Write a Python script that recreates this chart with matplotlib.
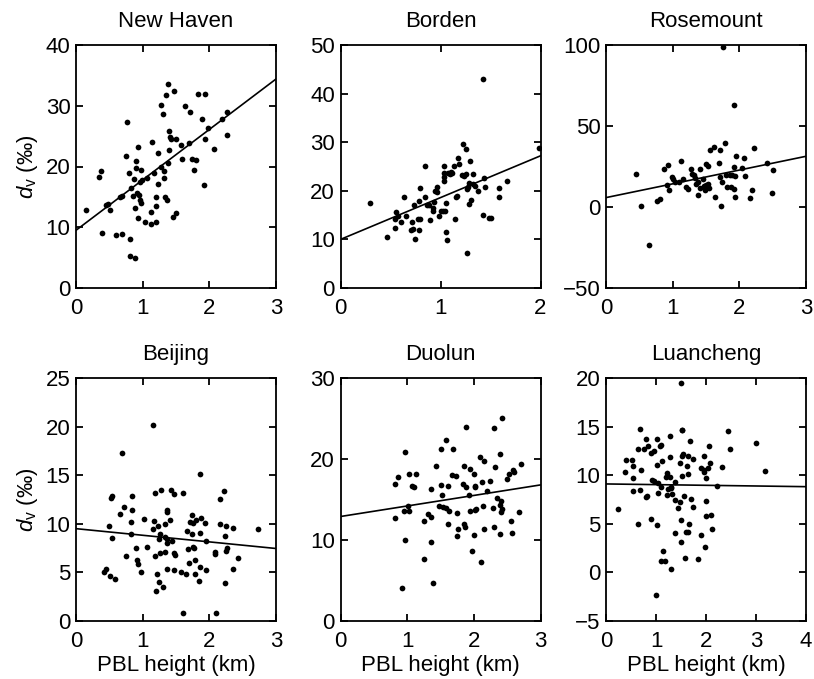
import numpy as np
import matplotlib
matplotlib.use("Agg")
import matplotlib.pyplot as plt

plt.rcParams['font.family'] = ['Liberation Sans', 'DejaVu Sans']
plt.rcParams['mathtext.fontset'] = 'custom'
plt.rcParams['mathtext.rm'] = 'Liberation Sans'
plt.rcParams['mathtext.it'] = 'Liberation Sans:italic'

# New Haven
nh_x = [0.145, 0.35, 0.375, 0.395, 0.445, 0.475, 0.505, 0.595, 0.655, 0.69, 0.685, 0.77, 0.745,
        0.79, 0.81, 0.815, 0.88, 0.82, 0.875, 0.86, 0.895, 0.9, 0.935, 0.97, 0.965, 0.91, 0.94,
        0.96, 0.975, 0.89, 0.93, 1.03, 0.995, 1.06, 1.135, 1.12, 1.13, 1.175, 1.2, 1.2, 1.195,
        1.235, 1.235, 1.275, 1.3, 1.28, 1.325, 1.315, 1.335, 1.37, 1.35, 1.38, 1.4, 1.41, 1.42,
        1.4, 1.375, 1.475, 1.495, 1.455, 1.5, 1.58, 1.595, 1.635, 1.695, 1.71, 1.74, 1.805, 1.77,
        1.835, 1.94, 1.895, 1.985, 1.935, 1.925, 2.075, 2.185, 2.265, 2.26]
nh_y = [12.9, 18.2, 19.3, 9.0, 13.7, 13.9, 12.9, 8.8, 14.9, 15.2, 8.9, 27.4, 21.8,
        19.0, 8.1, 5.3, 4.9, 16.4, 17.9, 15.2, 20.9, 19.8, 23.2, 19.5, 17.5, 15.7, 15.3,
        14.5, 14.0, 13.2, 11.6, 10.9, 17.7, 18.1, 24.0, 12.5, 10.5, 19.0, 14.9, 13.5, 10.8,
        22.2, 17.2, 30.1, 28.6, 19.9, 19.2, 18.1, 14.9, 14.5, 31.8, 33.5, 25.8, 24.9, 24.5,
        22.7, 20.5, 32.5, 24.5, 11.7, 12.3, 23.6, 21.2, 30.0, 23.8, 28.9, 21.3, 21.1, 19.5,
        31.9, 31.9, 27.8, 26.3, 24.5, 16.9, 22.9, 27.8, 29.0, 25.2]

# Borden
bo_x = [0.29, 0.46, 0.54, 0.55, 0.54, 0.575, 0.605, 0.635, 0.65, 0.71, 0.70, 0.72, 0.745, 0.73,
        0.77, 0.79, 0.78, 0.785, 0.795, 0.84, 0.845, 0.86, 0.885, 0.89, 0.92, 0.925, 0.935, 0.945,
        0.965, 0.965, 0.985, 1.0, 1.025, 1.045, 1.05, 1.035, 1.03, 1.03, 1.03, 1.055, 1.06, 1.075,
        1.09, 1.1, 1.115, 1.145, 1.15, 1.16, 1.135, 1.175, 1.18, 1.22, 1.25, 1.215, 1.23, 1.255,
        1.29, 1.32, 1.26, 1.27, 1.26, 1.28, 1.28, 1.3, 1.32, 1.34, 1.37, 1.425, 1.435, 1.44,
        1.425, 1.48, 1.5, 1.58, 1.585, 1.665, 1.98]
bo_y = [17.4, 10.4, 12.4, 15.7, 14.1, 14.8, 13.5, 18.7, 14.8, 13.6, 12.0, 12.2, 10.0, 17.0,
        14.1, 14.1, 12.0, 17.8, 20.6, 18.7, 25.1, 17.0, 17.0, 13.9, 16.5, 15.9, 17.6, 20.0,
        20.8, 19.7, 14.8, 15.9, 15.9, 15.9, 17.4, 25.2, 23.6, 22.8, 22.0, 11.5, 9.8, 23.7,
        23.4, 23.8, 23.6, 14.2, 18.8, 19.0, 25.2, 26.8, 25.5, 29.7, 28.6, 23.3, 23.1, 23.4,
        26.2, 23.4, 7.1, 20.8, 20.3, 21.7, 17.3, 18.2, 21.4, 21.0, 20.0, 43.1, 22.6, 20.7,
        15.1, 14.4, 14.5, 20.5, 18.8, 22.0, 28.8]

# Rosemount
ro_x = [0.455, 0.53, 0.65, 0.77, 0.81, 0.875, 0.93, 0.915, 0.95, 0.985, 1.0, 1.03, 1.095, 1.13,
        1.16, 1.2, 1.235, 1.28, 1.285, 1.315, 1.345, 1.335, 1.385, 1.375, 1.415, 1.415, 1.45,
        1.465, 1.48, 1.5, 1.5, 1.525, 1.525, 1.55, 1.56, 1.625, 1.64, 1.7, 1.71, 1.715, 1.73,
        1.735, 1.76, 1.785, 1.795, 1.815, 1.855, 1.88, 1.895, 1.915, 1.915, 1.92, 1.93, 1.945,
        1.94, 2.04, 2.075, 2.085, 2.155, 2.195, 2.22, 2.42, 2.49, 2.51]
ro_y = [20.2, 0.4, -23.5, 3.7, 4.9, 23.7, 26.0, 13.8, 10.3, 18.5, 17.5, 15.7, 15.5, 28.2,
        17.5, 12.2, 11.3, 23.7, 20.2, 19.6, 14.0, 17.7, 7.6, 15.5, 11.7, 23.7, 17.5,
        13.0, 10.3, 13.6, 26.8, 25.1, 14.4, 11.9, 35.0, 37.3, 6.2, 27.4, 18.5, 35.0, 0.8,
        15.5, 99.0, 39.3, 19.8, 12.4, 19.6, 12.6, 19.8, 62.8, 24.7, 10.9, 6.2, 31.3,
        19.2, 24.3, 30.3, 19.0, 5.4, 10.3, 36.3, 27.0, 8.7, 22.7]

# Beijing
bj_x = [0.415, 0.445, 0.515, 0.58, 0.5, 0.535, 0.52, 0.54, 0.685, 0.66, 0.72, 0.75, 0.82, 0.825,
        0.835, 0.835, 0.9, 0.915, 0.925, 0.98, 1.02, 1.06, 1.155, 1.155, 1.17, 1.18, 1.19, 1.22,
        1.23, 1.24, 1.255, 1.255, 1.27, 1.195, 1.245, 1.305, 1.33, 1.335, 1.335, 1.36, 1.37,
        1.37, 1.37, 1.36, 1.41, 1.44, 1.43, 1.47, 1.485, 1.475, 1.475, 1.57, 1.6, 1.61, 1.655,
        1.67, 1.68, 1.705, 1.7, 1.74, 1.74, 1.755, 1.76, 1.77, 1.78, 1.79, 1.8, 1.855, 1.85,
        1.865, 1.86, 1.88, 1.94, 1.945, 1.955, 2.08, 2.09, 2.095, 2.155, 2.16, 2.225, 2.23,
        2.25, 2.24, 2.245, 2.27, 2.35, 2.355, 2.43, 2.725]
bj_y = [5.0, 5.3, 4.6, 4.3, 9.8, 8.5, 12.7, 12.9, 17.3, 11.0, 11.7, 6.7, 8.9, 10.2,
        11.4, 12.9, 7.5, 6.3, 5.9, 5.0, 10.5, 7.6, 20.2, 9.5, 10.3, 6.7, 13.2, 4.8,
        9.8, 8.4, 9.0, 7.0, 13.5, 3.1, 4.0, 3.5, 8.6, 7.1, 10.0, 11.2, 11.4,
        5.3, 8.0, 8.4, 10.4, 8.2, 13.5, 7.0, 6.8, 13.1, 5.2, 5.0, 13.2, 0.8, 4.8,
        9.3, 7.4, 10.2, 6.0, 10.9, 8.9, 10.1, 7.6, 7.5, 4.8, 6.3, 10.4, 9.1, 4.1,
        15.1, 5.6, 10.6, 10.1, 8.2, 5.2, 7.1, 6.9, 0.8, 12.6, 10.0, 13.4, 8.7,
        9.8, 3.9, 7.2, 7.5, 9.6, 5.3, 6.5, 9.5]

# Duolun
dl_x = [0.81, 0.81, 0.865, 0.925, 0.96, 0.965, 0.955, 1.01, 1.02, 1.025, 1.07, 1.1, 1.125, 1.245,
        1.255, 1.315, 1.35, 1.35, 1.35, 1.38, 1.425, 1.48, 1.5, 1.5, 1.525, 1.54, 1.585, 1.61,
        1.585, 1.62, 1.615, 1.69, 1.675, 1.725, 1.745, 1.765, 1.75, 1.845, 1.84, 1.855, 1.88,
        1.885, 1.865, 1.925, 1.935, 1.945, 1.97, 2.005, 2.01, 2.015, 2.02, 2.0, 2.035, 2.09,
        2.11, 2.125, 2.145, 2.14, 2.145, 2.19, 2.24, 2.29, 2.3, 2.315, 2.305, 2.345, 2.385,
        2.395, 2.39, 2.405, 2.4, 2.42, 2.415, 2.5, 2.53, 2.56, 2.57, 2.585, 2.595, 2.68, 2.71]
dl_y = [16.9, 12.7, 17.8, 4.1, 10.0, 20.9, 13.6, 14.2, 18.1, 13.6, 16.7, 16.5, 18.2, 12.4,
        7.6, 13.2, 12.9, 9.8, 16.3, 4.7, 19.1, 14.2, 16.8, 21.2, 15.5, 14.1, 22.4, 16.7,
        14.0, 13.6, 12.0, 21.2, 18.0, 17.9, 13.3, 11.3, 10.5, 19.1, 16.9, 12.0, 24.0,
        16.5, 11.6, 15.5, 13.6, 18.8, 8.6, 18.2, 13.7, 16.5, 16.7, 10.6, 13.8, 20.3,
        7.3, 17.2, 19.8, 14.2, 11.4, 16.0, 17.3, 14.0, 23.8, 19.0, 11.6, 15.2, 14.3,
        20.6, 10.8, 14.8, 13.4, 13.8, 25.1, 17.5, 18.2, 12.3, 10.9, 18.7, 18.4, 13.4, 19.4]

# Luancheng
lc_x = [0.24, 0.38, 0.4, 0.52, 0.53, 0.53, 0.535, 0.645, 0.67, 0.64, 0.69, 0.685, 0.75, 0.79,
        0.81, 0.79, 0.84, 0.9, 0.915, 0.905, 0.95, 0.955, 0.995, 1.015, 1.025, 1.025, 1.035,
        1.045, 1.08, 1.09, 1.1, 1.11, 1.1, 1.13, 1.175, 1.195, 1.22, 1.215, 1.24, 1.27, 1.275,
        1.275, 1.29, 1.295, 1.3, 1.315, 1.37, 1.37, 1.38, 1.43, 1.47, 1.475, 1.49, 1.49, 1.5,
        1.51, 1.515, 1.51, 1.52, 1.54, 1.55, 1.585, 1.6, 1.64, 1.65, 1.625, 1.64, 1.645, 1.68,
        1.705, 1.73, 1.74, 1.845, 1.9, 1.905, 1.95, 1.95, 1.96, 1.975, 1.995, 2.005, 2.005,
        2.03, 2.065, 2.07, 2.09, 2.12, 2.22, 2.32, 2.445, 2.485, 2.99, 3.18]
lc_y = [6.5, 10.3, 11.6, 11.6, 10.9, 9.7, 8.4, 12.7, 14.8, 5.0, 10.5, 8.5, 12.7, 13.7,
        7.9, 7.8, 13.0, 12.3, 9.5, 5.5, 12.5, 9.4, -2.3, 4.9, 13.7, 11.1, 9.2,
        8.2, 13.0, 1.2, 13.1, 11.5, 8.8, 2.2, 1.2, 9.8, 10.2, 8.0, 8.6, 14.0, 11.9,
        9.8, 8.8, 0.4, 8.7, 8.1, 9.3, 7.5, 4.1, 6.6, 11.3, 7.2, 5.4, 3.1, 19.5,
        14.7, 14.6, 9.9, 12.0, 12.2, 7.9, 1.5, 4.2, 4.2, 5.0, 10.9, 12.0, 10.1, 13.5,
        7.6, 11.7, 6.7, 1.4, 10.7, 3.8, 10.5, 12.0, 10.3, 2.6, 7.3, 9.7, 5.8,
        10.7, 13.0, 11.3, 5.9, 4.5, 8.9, 10.8, 14.5, 12.7, 13.3, 10.4]

sites = ["New Haven", "Borden", "Rosemount", "Beijing", "Duolun", "Luancheng"]
xs = [nh_x, bo_x, ro_x, bj_x, dl_x, lc_x]
ys = [nh_y, bo_y, ro_y, bj_y, dl_y, lc_y]
fit_intercept = [9.5, 10.0, 5.8, 9.5, 12.9, 9.1]
fit_slope = [8.3, 8.6, 8.5, -0.68, 1.3, -0.07]
x_max = [3, 2, 3, 3, 3, 4]
y_lims = [(0, 40), (0, 50), (-50, 100), (0, 25), (0, 30), (-5, 20)]
y_steps = [10, 10, 50, 5, 10, 5]

fig = plt.figure(figsize=(8.14, 6.79), dpi=100)
lefts = [76, 340.5, 606]
bottoms = [1 - 288 / 679, 1 - 621 / 679]
w = 200 / 814
h = 243 / 679

for i in range(6):
    r, c = divmod(i, 3)
    ax = fig.add_axes([lefts[c] / 814, bottoms[r], w, h])
    ax.scatter(xs[i], ys[i], s=17, color='black', linewidths=0, zorder=3)
    lx = np.array([0, x_max[i]])
    ax.plot(lx, fit_intercept[i] + fit_slope[i] * lx, color='black', lw=1.2)
    ax.set_xlim(0, x_max[i])
    ax.set_ylim(*y_lims[i])
    ax.set_xticks(np.arange(0, x_max[i] + 1, 1))
    ax.set_yticks(np.arange(y_lims[i][0], y_lims[i][1] + 1, y_steps[i]))
    ax.tick_params(direction='in', top=True, right=True, length=5, width=1.3,
                   labelsize=16, pad=4)
    ax.tick_params(axis='x', pad=7)
    for s in ax.spines.values():
        s.set_linewidth(1.3)
    ax.set_title(sites[i], fontsize=16, pad=13)
    if c == 0:
        ax.set_ylabel(r'$\mathit{d}_\mathrm{v}$ (‰)', fontsize=16, labelpad=4)
    if r == 1:
        ax.set_xlabel('PBL height (km)', fontsize=16, labelpad=2)

plt.savefig("out.png", dpi=100)
